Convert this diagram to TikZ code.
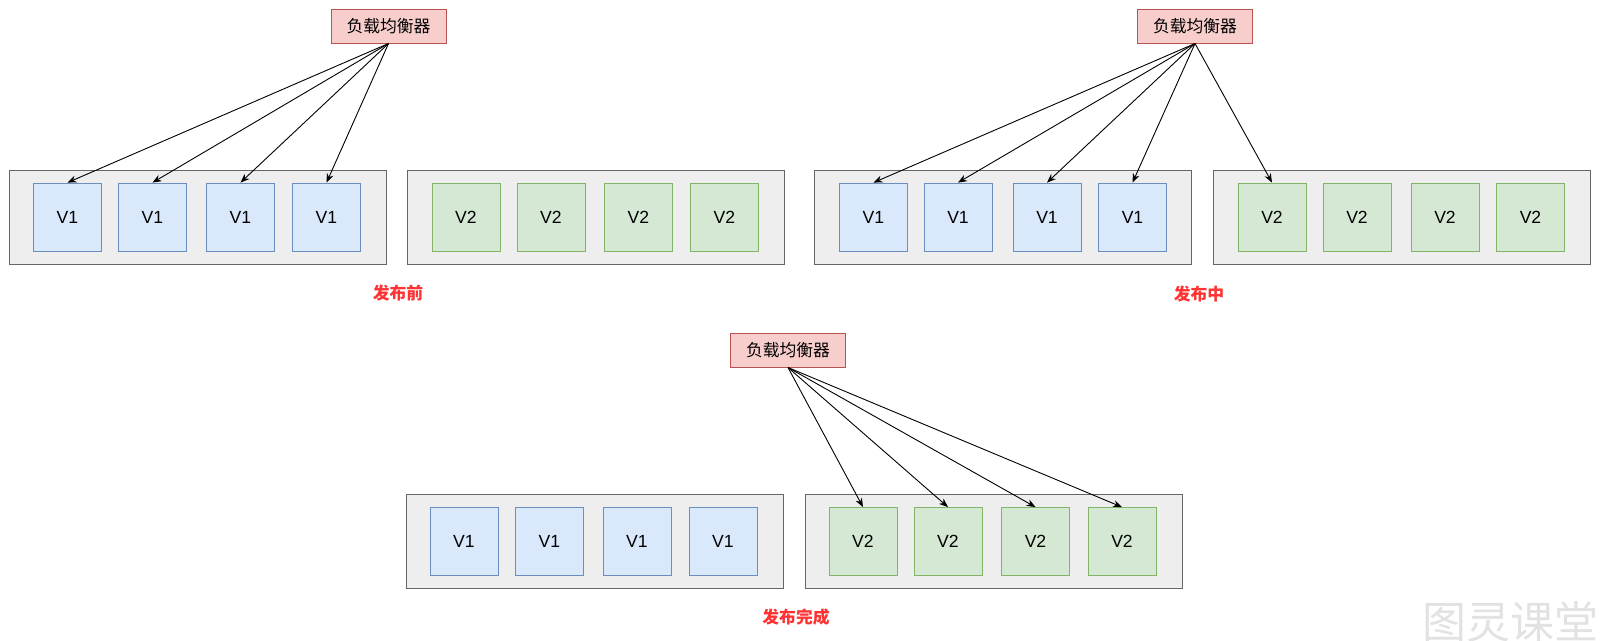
\documentclass[tikz,border=0pt]{standalone}
\usepackage{fontspec}
\setmainfont{Liberation Sans}
\newfontfamily\cjk{Noto Sans CJK SC}
\usetikzlibrary{arrows.meta}
\definecolor{GroupFill}{HTML}{EEEEEE}
\definecolor{GroupLine}{HTML}{666666}
\definecolor{OldFill}{HTML}{DAE8FC}
\definecolor{OldLine}{HTML}{6C8EBF}
\definecolor{NewFill}{HTML}{D5E8D4}
\definecolor{NewLine}{HTML}{82B366}
\definecolor{LbFill}{HTML}{F8CECC}
\definecolor{LbLine}{HTML}{B85450}
\definecolor{StageRed}{HTML}{FF3333}
\definecolor{BrandGray}{HTML}{E2E2E2}

\begin{document}
\begin{tikzpicture}[
  x=1pt, y=-1pt,
  group/.style={draw=GroupLine, fill=GroupFill, line width=1pt,
    minimum width=377pt, minimum height=94pt, inner sep=0pt},
  oldpod/.style={draw=OldLine, fill=OldFill, line width=0.8pt,
    minimum size=68pt, inner sep=0pt, font=\fontsize{17.6}{20}\selectfont},
  newpod/.style={oldpod, draw=NewLine, fill=NewFill},
  balancer/.style={draw=LbLine, fill=LbFill, line width=1pt,
    minimum width=115pt, minimum height=34pt, inner sep=0pt,
    font=\cjk\fontsize{16.8}{20}\selectfont},
  stage/.style={text=StageRed, font=\cjk\bfseries\fontsize{16.8}{20}\selectfont},
  arrow/.style={-{Stealth[length=9pt, width=7pt]}, line width=0.9pt, draw=black}
]
\useasboundingbox (0,0) rectangle (1600,640);

% before the release
\node[balancer] (lbBefore) at (388.5,26) {负载均衡器};
\node[group] (oldBefore) at (197.5,217) {};
\node[group] (newBefore) at (596,217) {};
\node[oldpod] (ob1) at (67.5,217) {V1};
\node[oldpod] (ob2) at (152.5,217) {V1};
\node[oldpod] (ob3) at (240.5,217) {V1};
\node[oldpod] (ob4) at (326.5,217) {V1};
\node[newpod] (nb1) at (466,217) {V2};
\node[newpod] (nb2) at (551,217) {V2};
\node[newpod] (nb3) at (638.5,217) {V2};
\node[newpod] (nb4) at (724.5,217) {V2};
\node[stage] (stageBefore) at (398,293) {发布前};

% during the release
\node[balancer] (lbDuring) at (1195,26) {负载均衡器};
\node[group] (oldDuring) at (1003,217) {};
\node[group] (newDuring) at (1402,217) {};
\node[oldpod] (od1) at (873.5,217) {V1};
\node[oldpod] (od2) at (958,217) {V1};
\node[oldpod] (od3) at (1047,217) {V1};
\node[oldpod] (od4) at (1132.5,217) {V1};
\node[newpod] (nd1) at (1272,217) {V2};
\node[newpod] (nd2) at (1357,217) {V2};
\node[newpod] (nd3) at (1445,217) {V2};
\node[newpod] (nd4) at (1530.5,217) {V2};
\node[stage] (stageDuring) at (1199,294) {发布中};

% after the release
\node[balancer] (lbAfter) at (788,350) {负载均衡器};
\node[group] (oldAfter) at (594.5,541) {};
\node[group] (newAfter) at (993.5,541) {};
\node[oldpod] (oa1) at (464,541.5) {V1};
\node[oldpod] (oa2) at (549.5,541.5) {V1};
\node[oldpod] (oa3) at (637,541.5) {V1};
\node[oldpod] (oa4) at (723,541.5) {V1};
\node[newpod] (na1) at (863,541.5) {V2};
\node[newpod] (na2) at (948,541.5) {V2};
\node[newpod] (na3) at (1035.5,541.5) {V2};
\node[newpod] (na4) at (1122,541.5) {V2};
\node[stage] (stageAfter) at (796,617) {发布完成};

\node[text=BrandGray, font=\cjk\fontsize{44}{48}\selectfont] (brand) at (1510,622) {图灵课堂};

\draw[arrow] (lbBefore.south) -- (ob1.north);
\draw[arrow] (lbBefore.south) -- (ob2.north);
\draw[arrow] (lbBefore.south) -- (ob3.north);
\draw[arrow] (lbBefore.south) -- (ob4.north);

\draw[arrow] (lbDuring.south) -- (od1.north);
\draw[arrow] (lbDuring.south) -- (od2.north);
\draw[arrow] (lbDuring.south) -- (od3.north);
\draw[arrow] (lbDuring.south) -- (od4.north);
\draw[arrow] (lbDuring.south) -- (nd1.north);

\draw[arrow] (lbAfter.south) -- (na1.north);
\draw[arrow] (lbAfter.south) -- (na2.north);
\draw[arrow] (lbAfter.south) -- (na3.north);
\draw[arrow] (lbAfter.south) -- (na4.north);
\end{tikzpicture}
\end{document}
